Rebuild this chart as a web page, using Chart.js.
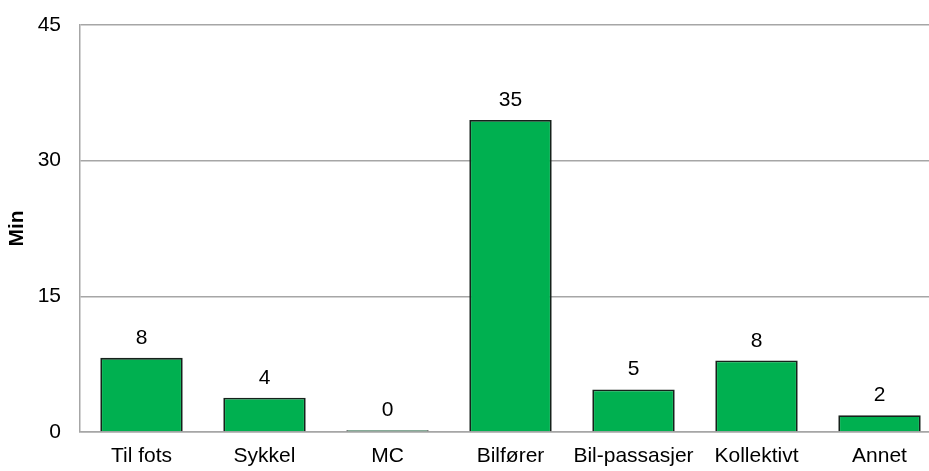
<!DOCTYPE html>
<html>
<head>
	<meta charset="utf-8">
	<title>Min per transportmiddel</title>
	<script src="https://cdn.jsdelivr.net/npm/chart.js"></script>
	<style>
		html, body {
			margin: 0;
			padding: 0;
			background: #fff;
			overflow: hidden;
		}

		.chart {
			width: 941px;
			height: 471px;
		}
	</style>
</head>

<body>
	<div class="chart">
		<canvas id="myChart"></canvas>
	</div>

	<script>
		// values
		var categories = [ 'Til fots', 'Sykkel', 'MC', 'Bilfører', 'Bil-passasjer', 'Kollektivt', 'Annet' ];
		var minutes = [ 8.2, 3.8, 0.2, 34.5, 4.7, 7.9, 1.85 ];
		var yTicks = [ 0, 15, 30, 45 ];

		var fontFamily = "'Liberation Sans Narrow', 'Arial Narrow', 'Liberation Sans', Arial, sans-serif";

		// draw the rounded value above each bar
		var valueLabels = {
			id: 'valueLabels',
			afterDatasetsDraw: function( chart ) {
				var ctx = chart.ctx;
				var meta = chart.getDatasetMeta( 0 );

				ctx.save();
				ctx.font = '21px ' + fontFamily;
				ctx.fillStyle = '#000';
				ctx.textAlign = 'center';
				ctx.textBaseline = 'alphabetic';

				meta.data.forEach( function( bar, i ) {
					ctx.fillText( Math.round( minutes[ i ] ), bar.x, bar.y - 14 );
				});

				ctx.restore();
			}
		};

		new Chart( document.getElementById( 'myChart' ), {
			type: 'bar',
			data: {
				labels: categories,
				datasets: [{
					data: minutes,
					backgroundColor: '#00b050',
					borderColor: '#16211b',
					borderWidth: 1.8,
					categoryPercentage: 1,
					barPercentage: 0.67
				}]
			},
			options: {
				responsive: true,
				maintainAspectRatio: false,
				animation: false,
				layout: {
					padding: { top: 25, right: 0, bottom: 0, left: 0 }
				},
				plugins: {
					legend: { display: false },
					tooltip: { enabled: false }
				},
				scales: {
					x: {
						grid: { display: false, drawTicks: false },
						border: { display: true, color: '#a6a6a6', width: 1.5 },
						ticks: {
							color: '#000',
							padding: 12,
							maxRotation: 0,
							minRotation: 0,
							autoSkip: false,
							font: { family: fontFamily, size: 21 }
						},
						afterFit: function( scale ) {
							scale.height = 39;
							scale.paddingLeft = 0;
							scale.paddingRight = 0;
						}
					},
					y: {
						min: 0,
						max: 45,
						afterBuildTicks: function( scale ) {
							scale.ticks = yTicks.map( function( v ) { return { value: v }; } );
						},
						grid: { color: '#a6a6a6', lineWidth: 1.5, drawTicks: false },
						border: { display: true, color: '#a6a6a6', width: 1.5 },
						ticks: {
							color: '#000',
							padding: 19,
							font: { family: fontFamily, size: 21 }
						},
						title: {
							display: true,
							text: 'Min',
							color: '#000',
							padding: { top: 5, bottom: 0 },
							font: { family: fontFamily, size: 21, weight: 'bold' }
						},
						afterFit: function( scale ) {
							scale.width = 80;
							scale.paddingTop = 0;
							scale.paddingBottom = 0;
						}
					}
				}
			},
			plugins: [ valueLabels ]
		});
	</script>
</body>
</html>
